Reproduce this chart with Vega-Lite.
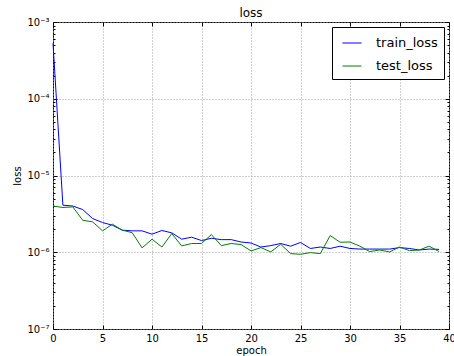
{
  "$schema": "https://vega.github.io/schema/vega-lite/v6.json",
  "width": 396,
  "height": 307,
  "autosize": {"type": "none"},
  "padding": {"left": 53, "top": 22, "right": 5, "bottom": 27},
  "config": {
    "font": "DejaVu Sans",
    "view": {"stroke": "#000", "strokeWidth": 1},
    "axis": {
      "domainColor": "#000",
      "tickColor": "#000",
      "labelColor": "#000",
      "titleColor": "#000",
      "labelFontSize": 10,
      "titleFontSize": 10,
      "titleFontWeight": "normal",
      "gridColor": "#a0a0a0",
      "gridDash": [1, 2],
      "labelFlush": false,
      "labelOverlap": false
    }
  },
  "title": {"text": "loss", "fontSize": 12, "fontWeight": "normal", "color": "#000", "offset": 6, "dy": 9},
  "data": {
    "values": [
      {"epoch": 0, "train_loss": 5.3e-4, "test_loss": 4.0e-6},
      {"epoch": 1, "train_loss": 4.1e-6, "test_loss": 3.83e-6},
      {"epoch": 2, "train_loss": 4.0e-6, "test_loss": 3.9e-6},
      {"epoch": 3, "train_loss": 3.6e-6, "test_loss": 2.61e-6},
      {"epoch": 4, "train_loss": 2.75e-6, "test_loss": 2.49e-6},
      {"epoch": 5, "train_loss": 2.44e-6, "test_loss": 1.9e-6},
      {"epoch": 6, "train_loss": 2.25e-6, "test_loss": 2.32e-6},
      {"epoch": 7, "train_loss": 1.94e-6, "test_loss": 1.94e-6},
      {"epoch": 8, "train_loss": 1.9e-6, "test_loss": 1.8e-6},
      {"epoch": 9, "train_loss": 1.9e-6, "test_loss": 1.14e-6},
      {"epoch": 10, "train_loss": 1.72e-6, "test_loss": 1.48e-6},
      {"epoch": 11, "train_loss": 1.92e-6, "test_loss": 1.17e-6},
      {"epoch": 12, "train_loss": 1.79e-6, "test_loss": 1.75e-6},
      {"epoch": 13, "train_loss": 1.48e-6, "test_loss": 1.21e-6},
      {"epoch": 14, "train_loss": 1.57e-6, "test_loss": 1.3e-6},
      {"epoch": 15, "train_loss": 1.42e-6, "test_loss": 1.3e-6},
      {"epoch": 16, "train_loss": 1.52e-6, "test_loss": 1.7e-6},
      {"epoch": 17, "train_loss": 1.46e-6, "test_loss": 1.22e-6},
      {"epoch": 18, "train_loss": 1.46e-6, "test_loss": 1.3e-6},
      {"epoch": 19, "train_loss": 1.36e-6, "test_loss": 1.26e-6},
      {"epoch": 20, "train_loss": 1.32e-6, "test_loss": 1.04e-6},
      {"epoch": 21, "train_loss": 1.17e-6, "test_loss": 1.15e-6},
      {"epoch": 22, "train_loss": 1.22e-6, "test_loss": 1.01e-6},
      {"epoch": 23, "train_loss": 1.3e-6, "test_loss": 1.27e-6},
      {"epoch": 24, "train_loss": 1.2e-6, "test_loss": 0.96e-6},
      {"epoch": 25, "train_loss": 1.34e-6, "test_loss": 0.94e-6},
      {"epoch": 26, "train_loss": 1.12e-6, "test_loss": 0.99e-6},
      {"epoch": 27, "train_loss": 1.17e-6, "test_loss": 0.96e-6},
      {"epoch": 28, "train_loss": 1.12e-6, "test_loss": 1.65e-6},
      {"epoch": 29, "train_loss": 1.2e-6, "test_loss": 1.35e-6},
      {"epoch": 30, "train_loss": 1.12e-6, "test_loss": 1.36e-6},
      {"epoch": 31, "train_loss": 1.1e-6, "test_loss": 1.2e-6},
      {"epoch": 32, "train_loss": 1.1e-6, "test_loss": 1.02e-6},
      {"epoch": 33, "train_loss": 1.1e-6, "test_loss": 1.07e-6},
      {"epoch": 34, "train_loss": 1.1e-6, "test_loss": 1.01e-6},
      {"epoch": 35, "train_loss": 1.15e-6, "test_loss": 1.17e-6},
      {"epoch": 36, "train_loss": 1.12e-6, "test_loss": 1.05e-6},
      {"epoch": 37, "train_loss": 1.07e-6, "test_loss": 1.07e-6},
      {"epoch": 38, "train_loss": 1.1e-6, "test_loss": 1.2e-6},
      {"epoch": 39, "train_loss": 1.09e-6, "test_loss": 1.02e-6}
    ]
  },
  "transform": [{"fold": ["train_loss", "test_loss"], "as": ["series", "loss"]}],
  "resolve": {"axis": {"x": "independent", "y": "independent"}},
  "layer": [
    {
      "mark": {"type": "line", "strokeWidth": 1, "strokeOpacity": 0},
      "encoding": {
        "detail": {"field": "series", "type": "nominal"},
        "x": {
          "field": "epoch", "type": "quantitative",
          "scale": {"domain": [0, 40], "nice": false},
          "axis": {"orient": "top", "values": [0, 5, 10, 15, 20, 25, 30, 35, 40], "labels": false, "title": null, "grid": false, "domain": false, "tickSize": -4}
        },
        "y": {
          "field": "loss", "type": "quantitative",
          "scale": {"type": "log", "domain": [1e-7, 1e-3], "nice": false},
          "axis": {
            "orient": "right", "labels": false, "title": null, "grid": false, "domain": false,
            "values": [1e-7, 2e-7, 3e-7, 4e-7, 5e-7, 6e-7, 7e-7, 8e-7, 9e-7, 1e-6, 2e-6, 3e-6, 4e-6, 5e-6, 6e-6, 7e-6, 8e-6, 9e-6, 1e-5, 2e-5, 3e-5, 4e-5, 5e-5, 6e-5, 7e-5, 8e-5, 9e-5, 1e-4, 2e-4, 3e-4, 4e-4, 5e-4, 6e-4, 7e-4, 8e-4, 9e-4, 1e-3],
            "tickSize": {"condition": {"test": "abs(log(datum.value)/LN10 - round(log(datum.value)/LN10)) < 1e-6", "value": -4}, "value": -2}
          }
        }
      }
    },
    {
      "mark": {"type": "line", "strokeWidth": 1},
      "encoding": {
        "x": {
          "field": "epoch", "type": "quantitative",
          "scale": {"domain": [0, 40], "nice": false},
          "axis": {"orient": "bottom", "values": [0, 5, 10, 15, 20, 25, 30, 35, 40], "title": "epoch", "grid": true, "domain": false, "tickSize": -4, "labelPadding": 8, "titlePadding": 2}
        },
        "y": {
          "field": "loss", "type": "quantitative",
          "scale": {"type": "log", "domain": [1e-7, 1e-3], "nice": false},
          "axis": {
            "orient": "left", "title": "loss", "domain": false, "titlePadding": 4, "grid": true,
            "values": [1e-7, 2e-7, 3e-7, 4e-7, 5e-7, 6e-7, 7e-7, 8e-7, 9e-7, 1e-6, 2e-6, 3e-6, 4e-6, 5e-6, 6e-6, 7e-6, 8e-6, 9e-6, 1e-5, 2e-5, 3e-5, 4e-5, 5e-5, 6e-5, 7e-5, 8e-5, 9e-5, 1e-4, 2e-4, 3e-4, 4e-4, 5e-4, 6e-4, 7e-4, 8e-4, 9e-4, 1e-3],
            "labelExpr": "abs(log(datum.value)/LN10 - round(log(datum.value)/LN10)) < 1e-6 ? '10' + ({'-3':'⁻³','-4':'⁻⁴','-5':'⁻⁵','-6':'⁻⁶','-7':'⁻⁷'})['' + round(log(datum.value)/LN10)] : ''",
            "labelPadding": 8,
            "tickSize": {"condition": {"test": "abs(log(datum.value)/LN10 - round(log(datum.value)/LN10)) < 1e-6", "value": -4}, "value": -2},
            "gridOpacity": {"condition": {"test": "abs(log(datum.value)/LN10 - round(log(datum.value)/LN10)) < 1e-6", "value": 1}, "value": 0}
          }
        },
        "color": {
          "field": "series", "type": "nominal",
          "scale": {"domain": ["train_loss", "test_loss"], "range": ["#0000ff", "#008000"]},
          "legend": {
            "title": null, "orient": "top-right", "offset": 5,
            "strokeColor": "#000", "fillColor": "#fff", "padding": 6,
            "symbolType": "stroke", "symbolSize": 361, "symbolStrokeWidth": 1, "symbolOffset": 4,
            "labelFontSize": 13, "labelColor": "#000", "labelOffset": 14, "rowPadding": 6,
            "labelLimit": 200
          }
        }
      }
    }
  ]
}
